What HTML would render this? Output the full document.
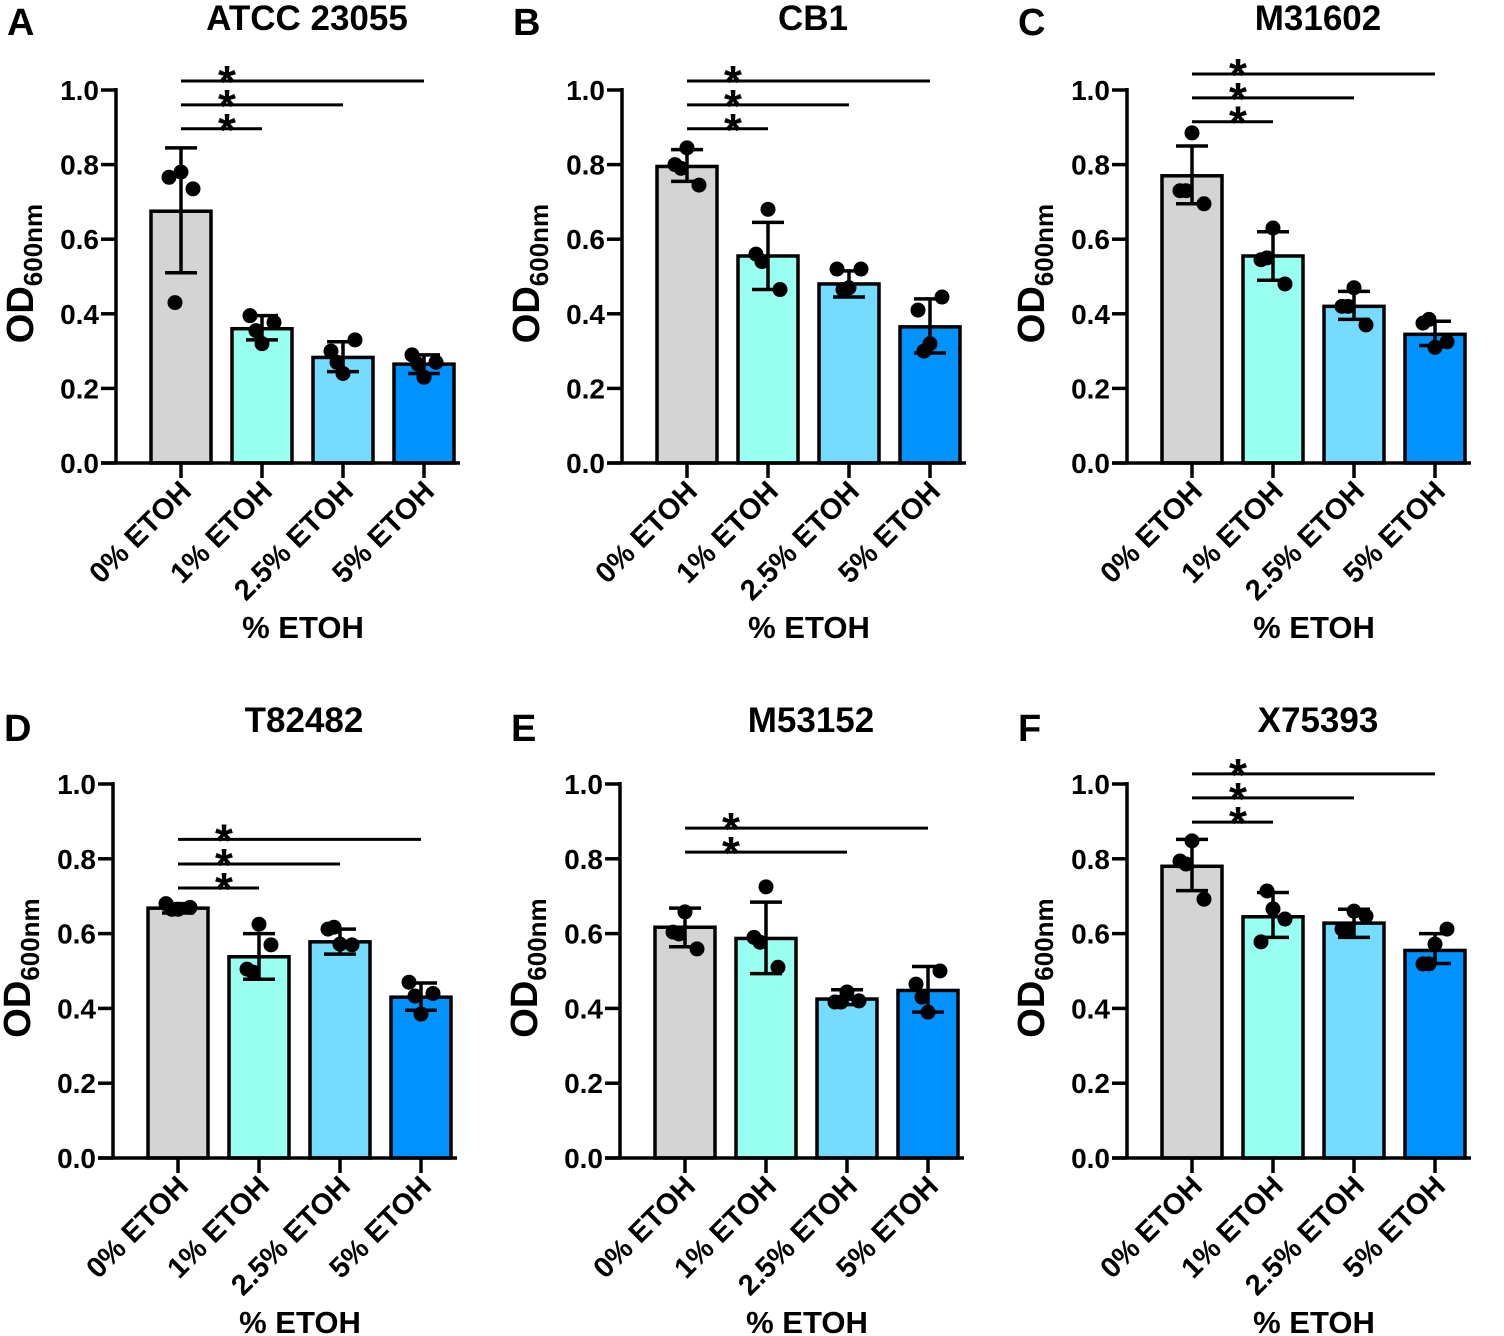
<!DOCTYPE html>
<html><head><meta charset="utf-8"><style>
html,body{margin:0;padding:0;background:#fff;}
svg{display:block;font-family:"Liberation Sans",Arial,sans-serif;font-weight:bold;}
</style></head><body>
<svg id="fig" width="1504" height="1336" viewBox="0 0 1504 1336" xmlns="http://www.w3.org/2000/svg"></svg>
<script>
const categories = ["0% ETOH","1% ETOH","2.5% ETOH","5% ETOH"];
const colors = ["#d4d4d4","#99fff0","#75dcff","#0092ff"];
const titlesArr = ["ATCC 23055","CB1","M31602","T82482","M53152","X75393"];
const lettersArr = ["A","B","C","D","E","F"];
const yTicks = [0,0.2,0.4,0.6,0.8,1.0];
const yTickLabels = ["0.0","0.2","0.4","0.6","0.8","1.0"];
const meansA = [0.675,0.36,0.283,0.265];
const meansB = [0.795,0.555,0.48,0.365];
const meansC = [0.77,0.555,0.42,0.345];
const meansD = [0.668,0.538,0.578,0.43];
const meansE = [0.617,0.587,0.425,0.448];
const meansF = [0.78,0.645,0.628,0.555];
const errLoA = [0.51,0.33,0.245,0.24], errHiA = [0.845,0.395,0.325,0.29];
const errLoB = [0.755,0.465,0.445,0.295], errHiB = [0.84,0.645,0.515,0.44];
const errLoC = [0.695,0.49,0.385,0.315], errHiC = [0.85,0.62,0.46,0.38];
const errLoD = [0.655,0.478,0.545,0.395], errHiD = [0.68,0.6,0.612,0.468];
const errLoE = [0.565,0.493,0.41,0.39], errHiE = [0.668,0.684,0.45,0.512];
const errLoF = [0.715,0.59,0.59,0.52], errHiF = [0.852,0.71,0.665,0.6];
const ptsA = [[0.766,0.78,0.735,0.43],[0.395,0.32,0.377,0.355],[0.30,0.24,0.33,0.27],[0.29,0.23,0.27,0.265]];
const ptsB = [[0.80,0.845,0.745,0.79],[0.56,0.68,0.465,0.54],[0.52,0.47,0.52,0.465],[0.41,0.32,0.445,0.30]];
const ptsC = [[0.73,0.885,0.695,0.73],[0.545,0.63,0.48,0.55],[0.42,0.47,0.37,0.42],[0.375,0.31,0.325,0.385]];
const ptsD = [[0.68,0.665,0.67,0.665],[0.505,0.625,0.57,0.497],[0.612,0.572,0.57,0.617],[0.47,0.385,0.44,0.433]];
const ptsE = [[0.604,0.658,0.559,0.599],[0.59,0.725,0.51,0.577],[0.417,0.444,0.42,0.417],[0.465,0.39,0.5,0.43]];
const ptsF = [[0.794,0.848,0.692,0.786],[0.578,0.666,0.639,0.714],[0.612,0.66,0.647,0.612],[0.519,0.572,0.612,0.519]];
const sigTargetsA = [1,2,3], sigLevelsA = [0.896,0.96,1.024];
const sigTargetsB = [1,2,3], sigLevelsB = [0.896,0.96,1.024];
const sigTargetsC = [1,2,3], sigLevelsC = [0.915,0.979,1.043];
const sigTargetsD = [1,2,3], sigLevelsD = [0.722,0.786,0.852];
const sigTargetsE = [2,3], sigLevelsE = [0.818,0.882];
const sigTargetsF = [1,2,3], sigLevelsF = [0.898,0.963,1.027];

const means=[meansA,meansB,meansC,meansD,meansE,meansF];
const los=[errLoA,errLoB,errLoC,errLoD,errLoE,errLoF];
const his=[errHiA,errHiB,errHiC,errHiD,errHiE,errHiF];
const pts=[ptsA,ptsB,ptsC,ptsD,ptsE,ptsF];
const sigT=[sigTargetsA,sigTargetsB,sigTargetsC,sigTargetsD,sigTargetsE,sigTargetsF];
const sigL=[sigLevelsA,sigLevelsB,sigLevelsC,sigLevelsD,sigLevelsE,sigLevelsF];
const axX=[116,622,1127,113,620,1127];
const NS="http://www.w3.org/2000/svg";
const svg=document.getElementById('fig');
function mk(tag,attrs,parent){const e=document.createElementNS(NS,tag);for(const k in attrs)e.setAttribute(k,attrs[k]);(parent||svg).appendChild(e);return e;}
const jitter=[-12,0,12,-6];
for(let p=0;p<6;p++){
  const row=p<3?0:1;
  const y0=row?1158:463, y1=row?784:90;
  const ax=axX[p];
  const yS=v=>y0-(y0-y1)*v;
  const xS=i=>ax+65+81*i;
  const g=mk('g',{});
  
  
  const letter=mk('text',{x:ax-109,y:(row?741:35),'font-size':38},g);letter.textContent=lettersArr[p];
  
  const t=mk('text',{x:ax+191,y:(row?732:30),'font-size':35,'text-anchor':'middle'},g);t.textContent=titlesArr[p];
  
  for(let i=0;i<4;i++){
    const b=mk('rect',{x:xS(i)-30,y:yS(means[p][i]),width:60,height:y0-yS(means[p][i]),fill:colors[i],stroke:'#000','stroke-width':3.5},g);
    
  }
  const ya=mk('line',{x1:ax,y1:y1-2,x2:ax,y2:y0,stroke:'#000','stroke-width':3.5},g);
  
  const xa=mk('line',{x1:ax-15,y1:y0,x2:xS(3)+36,y2:y0,stroke:'#000','stroke-width':3.5},g);
  
  yTicks.forEach((v,k)=>{
    mk('line',{x1:ax-15,y1:yS(v),x2:ax,y2:yS(v),stroke:'#000','stroke-width':3.5},g);
    const tl=mk('text',{x:ax-17,y:yS(v)+10,'font-size':28,'text-anchor':'end'},g);tl.textContent=yTickLabels[k];
    
  });
  categories.forEach((c,i)=>{
    mk('line',{x1:xS(i),y1:y0,x2:xS(i),y2:y0+15,stroke:'#000','stroke-width':3.5},g);
    const lx=xS(i)+12, ly=y0+30;
    const tl=mk('text',{x:lx,y:ly,'font-size':29,'text-anchor':'end',transform:`rotate(-45 ${lx} ${ly})`},g);tl.textContent=c;
    
  });
  const xt=mk('text',{x:ax+187,y:(row?1333:638),'font-size':31,'text-anchor':'middle'},g);xt.textContent='% ETOH';
  
  const yc=(y0+y1)/2-3;
  const yt=mk('text',{x:ax-83,y:yc,'font-size':38,'text-anchor':'middle',transform:`rotate(-90 ${ax-83} ${yc})`},g);
  yt.innerHTML='OD<tspan font-size="26" dy="9">600nm</tspan>';
  
  for(let i=0;i<4;i++){
    const cx=xS(i);
    pts[p][i].forEach((v,k)=>{
      const d=mk('circle',{cx:cx+jitter[k],cy:yS(v),r:7.5,fill:'#000'},g);
      
    });
    const lo=yS(los[p][i]),hi=yS(his[p][i]);
    mk('line',{x1:cx,y1:lo,x2:cx,y2:hi,stroke:'#000','stroke-width':3.5},g);
    mk('line',{x1:cx-16,y1:lo,x2:cx+16,y2:lo,stroke:'#000','stroke-width':3.5},g);
    mk('line',{x1:cx-16,y1:hi,x2:cx+16,y2:hi,stroke:'#000','stroke-width':3.5},g);
  }
  sigT[p].forEach((ti,k)=>{
    const yy=yS(sigL[p][k]);
    const l=mk('line',{x1:xS(0),y1:yy,x2:xS(ti),y2:yy,stroke:'#000','stroke-width':3},g);
    
    const s=mk('text',{x:xS(0)+46,y:yy+17,'font-size':46,'text-anchor':'middle'},g);s.textContent='*';
    
  });
}
</script>
</body></html>
